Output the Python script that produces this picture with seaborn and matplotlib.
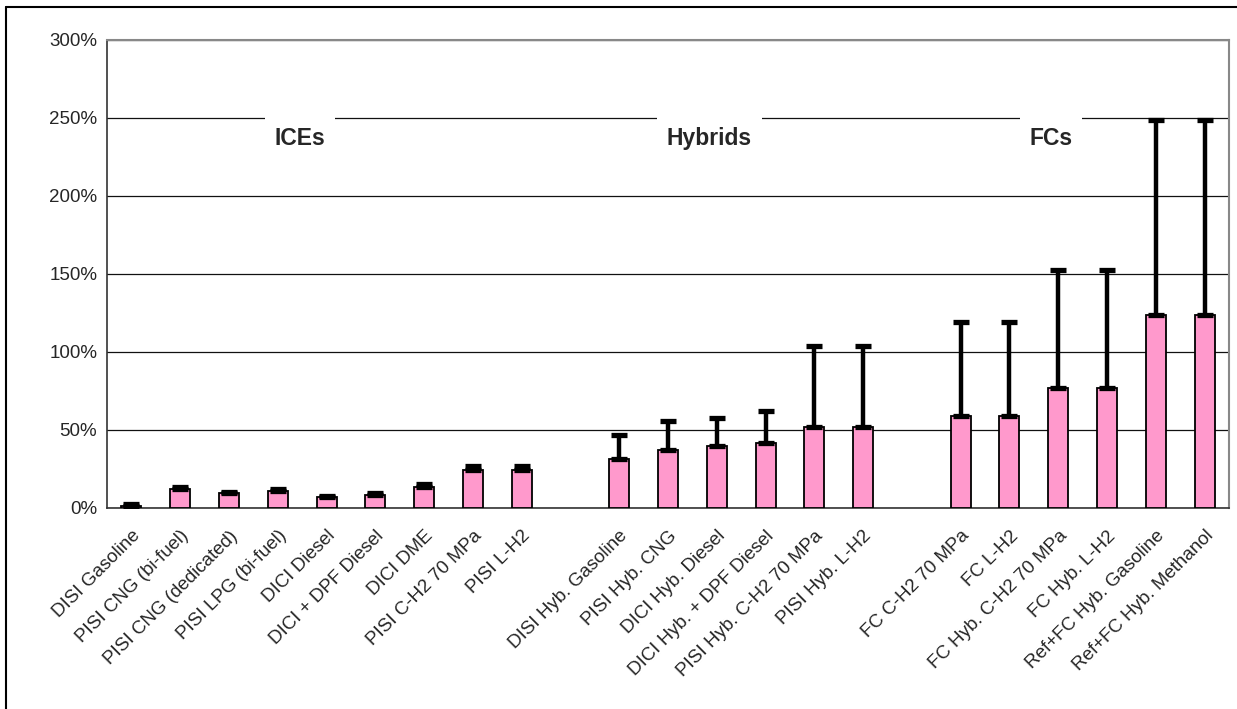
import matplotlib
matplotlib.use("Agg")
import matplotlib.pyplot as plt
from matplotlib.lines import Line2D
from matplotlib.ticker import PercentFormatter, FixedLocator
from matplotlib.transforms import ScaledTranslation
import numpy as np
import pandas as pd
import seaborn as sns

# categories, grouped; blank slots separate the groups
ices = ["DISI Gasoline", "PISI CNG (bi-fuel)", "PISI CNG (dedicated)", "PISI LPG (bi-fuel)",
        "DICI Diesel", "DICI + DPF Diesel", "DICI DME", "PISI C-H2 70 MPa", "PISI L-H2"]
hybrids = ["DISI Hyb. Gasoline", "PISI Hyb. CNG", "DICI Hyb. Diesel", "DICI Hyb. + DPF Diesel",
           "PISI Hyb. C-H2 70 MPa", "PISI Hyb. L-H2"]
fcs = ["FC C-H2 70 MPa", "FC L-H2", "FC Hyb. C-H2 70 MPa", "FC Hyb. L-H2",
       "Ref+FC Hyb. Gasoline", "Ref+FC Hyb. Methanol"]

# bar values (%)
ice_vals = [1.5, 12.5, 9.5, 11, 7, 8.5, 13.5, 24.5, 24.5]
hyb_vals = [31.5, 37.5, 39.5, 41.5, 52, 52]
fc_vals = [59, 59, 77, 77, 124, 124]

# top of the error bars (%)
ice_high = [2.5, 13.5, 10.5, 12, 7.5, 9.5, 15.5, 27, 27]
hyb_high = [47, 56, 58, 62, 104, 104]
fc_high = [119.5, 119.5, 152.5, 152.5, 249, 249]

group_names = ["ICEs", "Hybrids", "FCs"]

order = ices + [" "] + hybrids + ["  "] + fcs
df = pd.DataFrame({
    "tech": ices + hybrids + fcs,
    "value": ice_vals + hyb_vals + fc_vals,
    "high": ice_high + hyb_high + fc_high,
})

sns.set_style("white")
plt.rcParams["font.family"] = ["Liberation Sans", "DejaVu Sans"]

fig = plt.figure(figsize=(12.37, 7.09), dpi=100)
ax = fig.add_axes([107 / 1237, 1 - 508 / 709, (1229 - 107) / 1237, (508 - 40) / 709])

sns.barplot(data=df, x="tech", y="value", order=order, color="#FF99CC",
            edgecolor="black", linewidth=1.3, width=0.41, saturation=1, ax=ax, zorder=3)

pos = [order.index(t) for t in df["tech"]]
err = np.vstack([np.zeros(len(df)), df["high"] - df["value"]])
ax.errorbar(pos, df["value"], yerr=err, fmt="none", ecolor="black",
            elinewidth=3.2, capsize=5.5, capthick=3.8, zorder=4)

ax.set_ylim(0, 300)
ax.set_xlim(-0.5, len(order) - 0.5)
ax.set_yticks(np.arange(0, 301, 50))
ax.yaxis.set_major_formatter(PercentFormatter(decimals=0))
ax.grid(axis="y", color="#111111", linewidth=0.9, zorder=0)
ax.set_axisbelow(True)

ax.set_xticks(range(len(order)))
ax.set_xticklabels(order, rotation=45, ha="right", rotation_mode="anchor", fontsize=13.5)
shift = ScaledTranslation(-9 / 72, -2 / 72, fig.dpi_scale_trans)
for lab in ax.get_xticklabels():
    lab.set_transform(lab.get_transform() + shift)
ax.xaxis.set_minor_locator(FixedLocator(np.arange(-0.5, len(order), 1)))
ax.tick_params(axis="x", which="major", length=0, pad=14)
ax.tick_params(axis="x", which="minor", length=6, width=1, color="#333333", direction="out")
ax.tick_params(axis="y", length=5, width=1, color="#333333", direction="out", labelsize=13.5, pad=2)
ax.set_xlabel("")
ax.set_ylabel("")

for side in ["left", "bottom"]:
    ax.spines[side].set_color("#333333")
    ax.spines[side].set_linewidth(1.2)
for side in ["top", "right"]:
    ax.spines[side].set_color("#888888")
    ax.spines[side].set_linewidth(1.5)

# group labels sitting on the 250% gridline
for name, xc in zip(group_names, [3.46, 11.85, 18.85]):
    ax.text(xc, 237, name, ha="center", va="center", fontsize=16.5, fontweight="bold",
            bbox=dict(facecolor="white", edgecolor="none", pad=7), zorder=2)

# outer chart border (left and top visible)
fig.add_artist(Line2D([6 / 1237, 6 / 1237], [0, 1 - 7 / 709], color="black", lw=1.5))
fig.add_artist(Line2D([6 / 1237, 1], [1 - 7 / 709, 1 - 7 / 709], color="black", lw=1.5))

fig.savefig("out.png", dpi=100)
